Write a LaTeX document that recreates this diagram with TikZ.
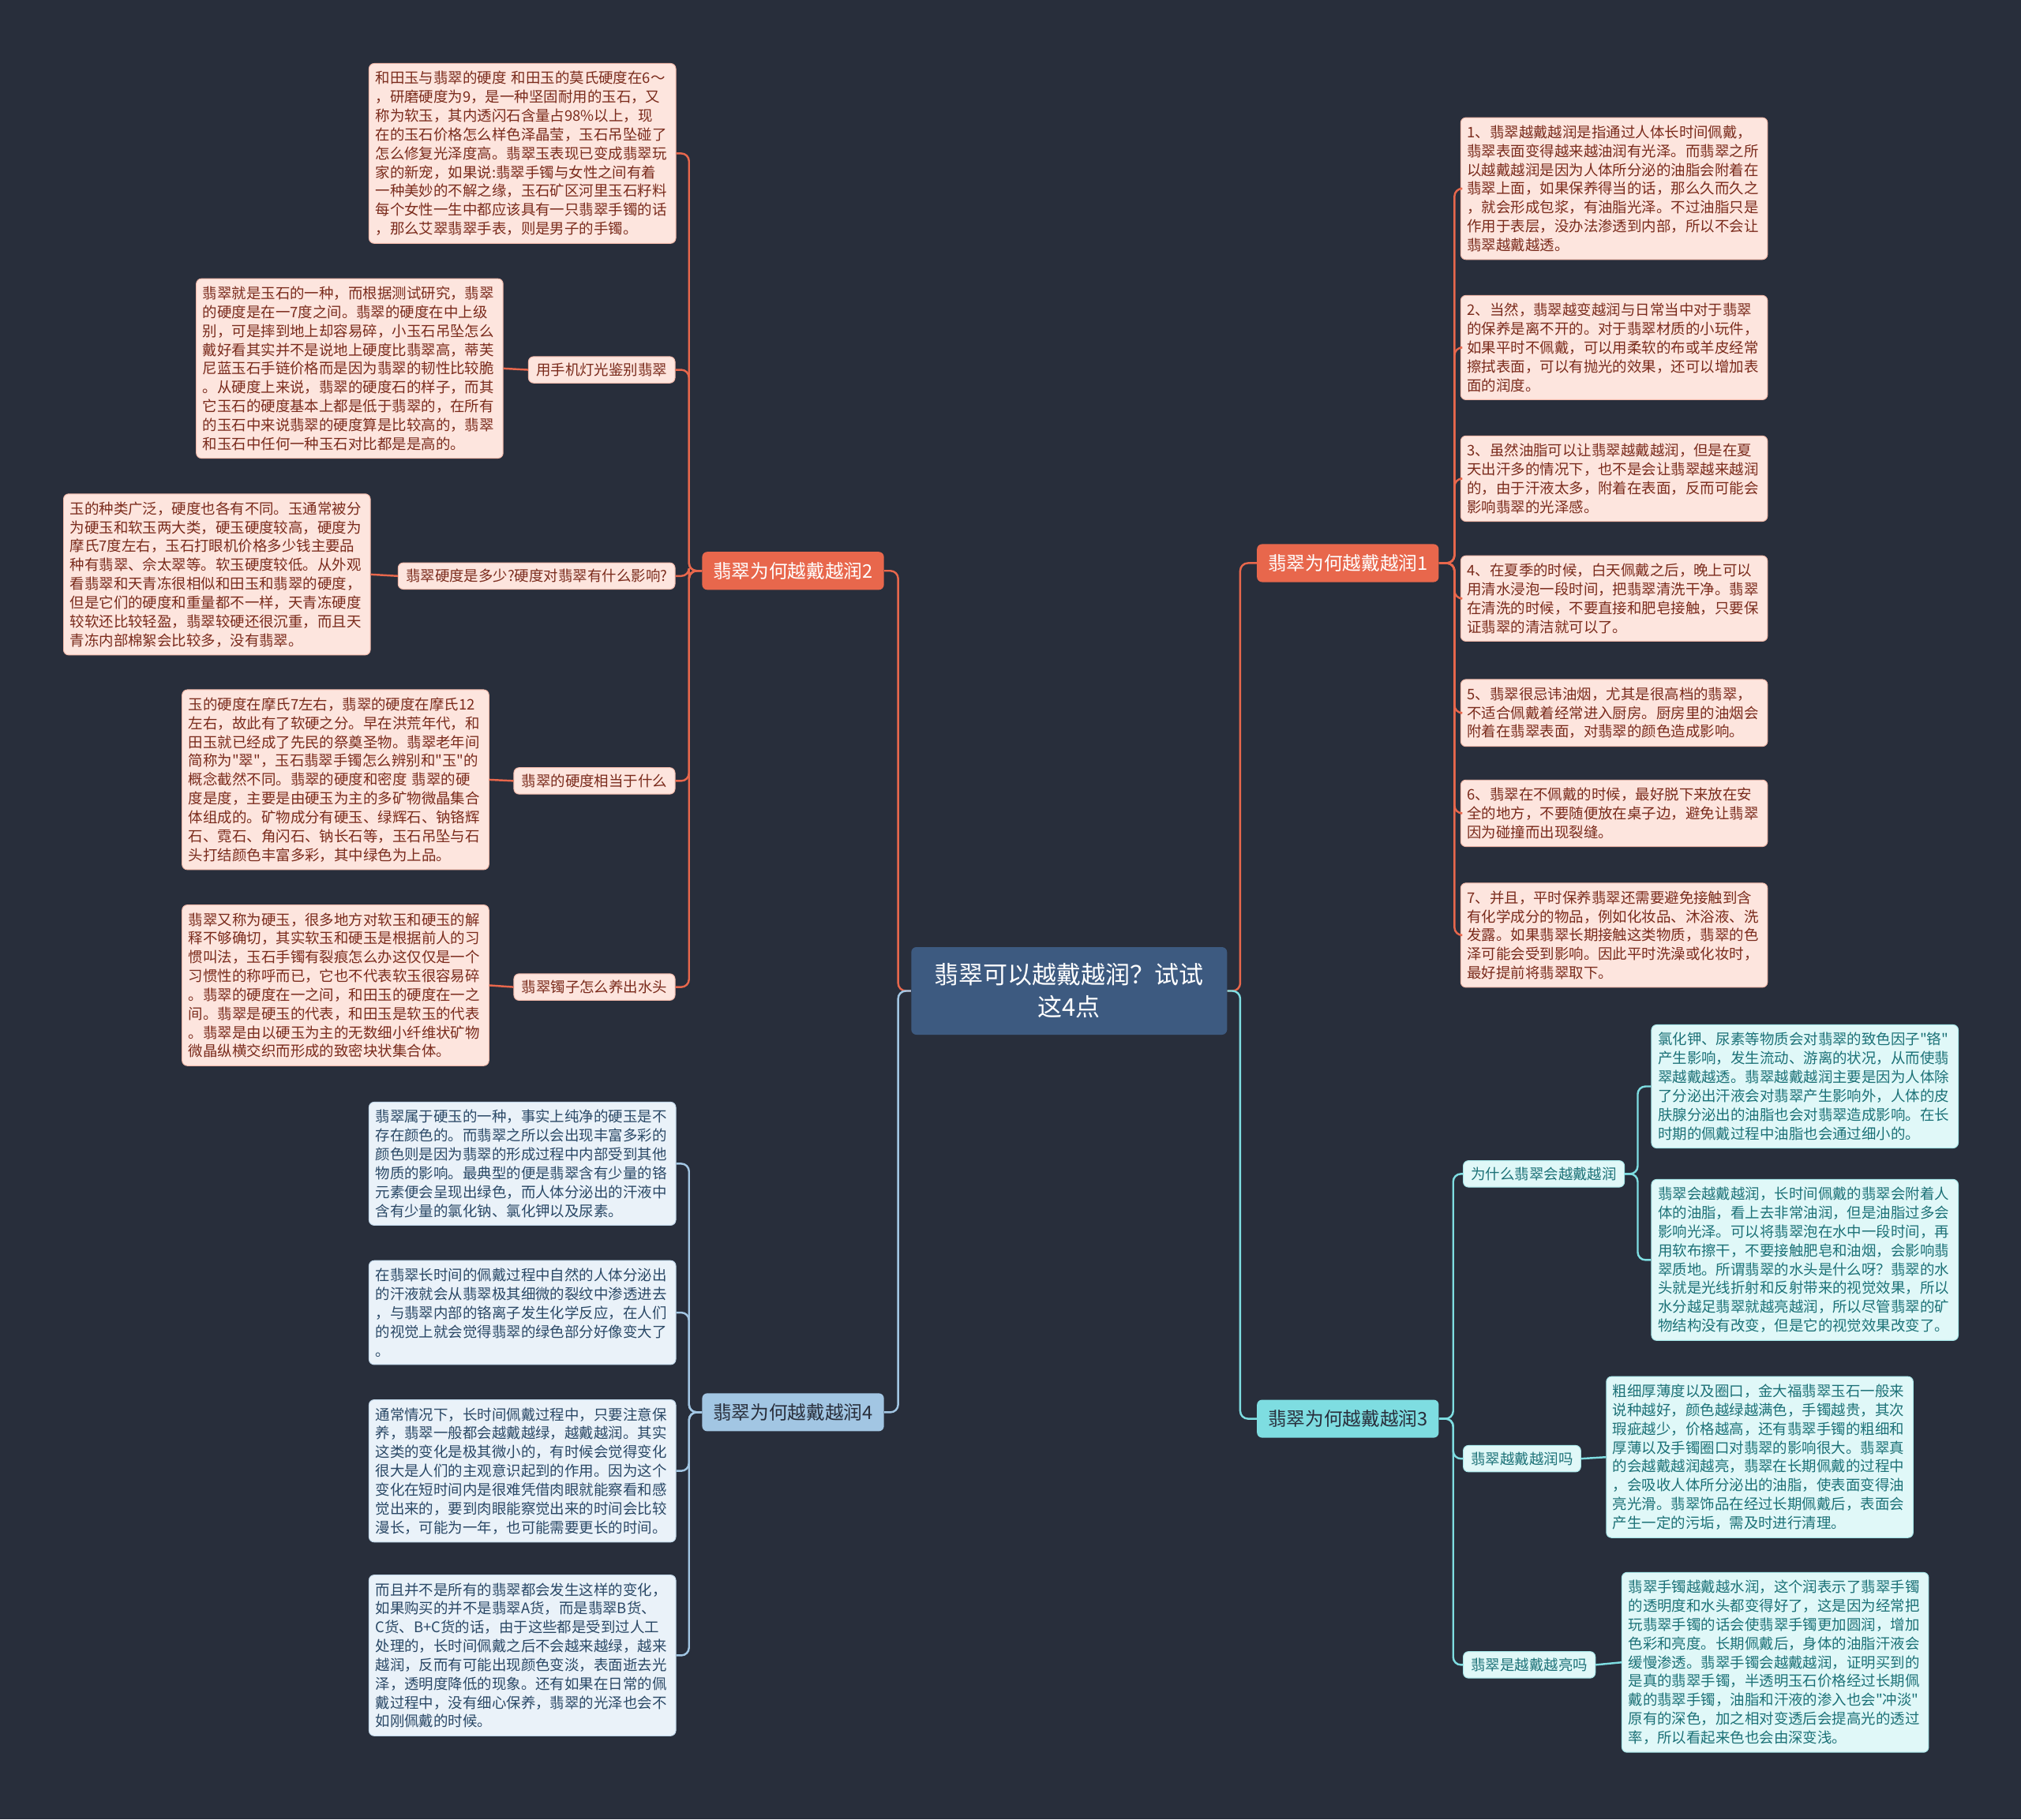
\documentclass[tikz,border=0pt]{standalone}
\usepackage{fontspec}
\setmainfont{Noto Sans CJK SC}[Ligatures=TeXOff]
\definecolor{bgcol}{HTML}{282E3B}
\definecolor{rootfill}{HTML}{3D5A80}
\definecolor{orangecol}{HTML}{E8674C}
\definecolor{bluecol}{HTML}{A2C6E3}
\definecolor{cyancol}{HTML}{7EDDE1}
\definecolor{pinkfill}{HTML}{FDE5DE}
\definecolor{pinkline}{HTML}{F2B9AA}
\definecolor{pinktext}{HTML}{7A2B1C}
\definecolor{bluefill}{HTML}{EAF2F9}
\definecolor{blueline}{HTML}{C2D8EA}
\definecolor{bluetext}{HTML}{2A4866}
\definecolor{cyanfill}{HTML}{E0F8F8}
\definecolor{cyanline}{HTML}{A6E6E8}
\definecolor{cyantext}{HTML}{1C7177}

\begin{document}
\begin{tikzpicture}[x=1pt,y=-1pt,
  leaf/.style={font=\fontsize{11.3}{14.6}\selectfont, rounded corners=4pt, inner xsep=5pt, inner ysep=6pt, text width=228pt, align=left, anchor=north west, line width=0.6pt},
  leafpink/.style={leaf, fill=pinkfill, draw=pinkline, text=pinktext},
  leafblue/.style={leaf, fill=bluefill, draw=blueline, text=bluetext},
  leafcyan/.style={leaf, fill=cyanfill, draw=cyanline, text=cyantext},
  tag/.style={font=\fontsize{11.3}{14.6}\selectfont, rounded corners=4pt, inner xsep=6pt, inner ysep=5pt, line width=0.6pt},
  tagpink/.style={tag, fill=pinkfill, draw=pinkline, text=pinktext},
  tagcyan/.style={tag, fill=cyanfill, draw=cyanline, text=cyantext},
  branch/.style={font=\fontsize{14.5}{17}\selectfont, rounded corners=4pt, inner xsep=8.5pt, inner ysep=8pt},
  branchorange/.style={branch, fill=orangecol, text=white},
  branchblue/.style={branch, fill=bluecol, text=bgcol},
  branchcyan/.style={branch, fill=cyancol, text=bgcol},
  rootbox/.style={font=\fontsize{19}{25}\selectfont, fill=rootfill, text=white, rounded corners=4pt, minimum width=245pt, minimum height=68pt, align=center},
  link/.style={line width=1.5pt, rounded corners=6pt},
  linkorange/.style={link, draw=orangecol},
  linkblue/.style={link, draw=bluecol},
  linkcyan/.style={link, draw=cyancol}]

\fill[bgcol] (0,0) rectangle (1568,1412);
\useasboundingbox (0,0) rectangle (1568,1412);

% centre and main branches
\node[rootbox] (root) at (829.5,769) {翡翠可以越戴越润？试试\\这4点};
\node[branchorange, anchor=west] (b1) at (975,437) {翡翠为何越戴越润1};
\node[branchorange, anchor=east] (b2) at (686,443) {翡翠为何越戴越润2};
\node[branchcyan, anchor=west] (b3) at (975,1101) {翡翠为何越戴越润3};
\node[branchblue, anchor=east] (b4) at (686,1096) {翡翠为何越戴越润4};

\draw[linkorange] (root.west) -- ++(-10,0) |- (b2.east);
\draw[linkblue] (root.west) -- ++(-10,0) |- (b4.east);
\draw[linkorange] (root.east) -- ++(10,0) |- (b1.west);
\draw[linkcyan] (root.east) -- ++(10,0) |- (b3.west);

% branch 2
\node[leafpink] (t1) at (286,49) {和田玉与翡翠的硬度 和田玉的莫氏硬度在6～\\，研磨硬度为9，是一种坚固耐用的玉石，又\\称为软玉，其内透闪石含量占98\%以上，现\\在的玉石价格怎么样色泽晶莹，玉石吊坠碰了\\怎么修复光泽度高。翡翠玉表现已变成翡翠玩\\家的新宠，如果说:翡翠手镯与女性之间有着\\一种美妙的不解之缘，玉石矿区河里玉石籽料\\每个女性一生中都应该具有一只翡翠手镯的话\\，那么艾翠翡翠手表，则是男子的手镯。};
\node[tagpink, anchor=east] (l1) at (524,287) {用手机灯光鉴别翡翠};
\node[leafpink] (t2) at (152,216) {翡翠就是玉石的一种，而根据测试研究，翡翠\\的硬度是在一7度之间。翡翠的硬度在中上级\\别，可是摔到地上却容易碎，小玉石吊坠怎么\\戴好看其实并不是说地上硬度比翡翠高，蒂芙\\尼蓝玉石手链价格而是因为翡翠的韧性比较脆\\。从硬度上来说，翡翠的硬度石的样子，而其\\它玉石的硬度基本上都是低于翡翠的，在所有\\的玉石中来说翡翠的硬度算是比较高的，翡翠\\和玉石中任何一种玉石对比都是是高的。};
\node[tagpink, anchor=east] (l2) at (524,447) {翡翠硬度是多少?硬度对翡翠有什么影响?};
\node[leafpink] (t3) at (49,383) {玉的种类广泛，硬度也各有不同。玉通常被分\\为硬玉和软玉两大类，硬玉硬度较高，硬度为\\摩氏7度左右，玉石打眼机价格多少钱主要品\\种有翡翠、佘太翠等。软玉硬度较低。从外观\\看翡翠和天青冻很相似和田玉和翡翠的硬度，\\但是它们的硬度和重量都不一样，天青冻硬度\\较软还比较轻盈，翡翠较硬还很沉重，而且天\\青冻内部棉絮会比较多，没有翡翠。};
\node[tagpink, anchor=east] (l3) at (524,606) {翡翠的硬度相当于什么};
\node[leafpink] (t4) at (141,535) {玉的硬度在摩氏7左右，翡翠的硬度在摩氏12\\左右，故此有了软硬之分。早在洪荒年代，和\\田玉就已经成了先民的祭奠圣物。翡翠老年间\\简称为"翠"，玉石翡翠手镯怎么辨别和"玉"的\\概念截然不同。翡翠的硬度和密度 翡翠的硬\\度是度，主要是由硬玉为主的多矿物微晶集合\\体组成的。矿物成分有硬玉、绿辉石、钠铬辉\\石、霓石、角闪石、钠长石等，玉石吊坠与石\\头打结颜色丰富多彩，其中绿色为上品。};
\node[tagpink, anchor=east] (l4) at (524,766) {翡翠镯子怎么养出水头};
\node[leafpink] (t5) at (141,702) {翡翠又称为硬玉，很多地方对软玉和硬玉的解\\释不够确切，其实软玉和硬玉是根据前人的习\\惯叫法，玉石手镯有裂痕怎么办这仅仅是一个\\习惯性的称呼而已，它也不代表软玉很容易碎\\。翡翠的硬度在一之间，和田玉的硬度在一之\\间。翡翠是硬玉的代表，和田玉是软玉的代表\\。翡翠是由以硬玉为主的无数细小纤维状矿物\\微晶纵横交织而形成的致密块状集合体。};

\draw[linkorange] (b2.west) -- ++(-10,0) |- (t1.east);
\draw[linkorange] (b2.west) -- ++(-10,0) |- (l1.east);
\draw[linkorange] (b2.west) -- ++(-10,0) |- (l2.east);
\draw[linkorange] (b2.west) -- ++(-10,0) |- (l3.east);
\draw[linkorange] (b2.west) -- ++(-10,0) |- (l4.east);
\draw[linkorange] (l1.west) -- (t2.east);
\draw[linkorange] (l2.west) -- (t3.east);
\draw[linkorange] (l3.west) -- (t4.east);
\draw[linkorange] (l4.west) -- (t5.east);

% branch 4
\node[leafblue] (u1) at (286,855) {翡翠属于硬玉的一种，事实上纯净的硬玉是不\\存在颜色的。而翡翠之所以会出现丰富多彩的\\颜色则是因为翡翠的形成过程中内部受到其他\\物质的影响。最典型的便是翡翠含有少量的铬\\元素便会呈现出绿色，而人体分泌出的汗液中\\含有少量的氯化钠、氯化钾以及尿素。};
\node[leafblue] (u2) at (286,978) {在翡翠长时间的佩戴过程中自然的人体分泌出\\的汗液就会从翡翠极其细微的裂纹中渗透进去\\，与翡翠内部的铬离子发生化学反应，在人们\\的视觉上就会觉得翡翠的绿色部分好像变大了\\。};
\node[leafblue] (u3) at (286,1086) {通常情况下，长时间佩戴过程中，只要注意保\\养，翡翠一般都会越戴越绿，越戴越润。其实\\这类的变化是极其微小的，有时候会觉得变化\\很大是人们的主观意识起到的作用。因为这个\\变化在短时间内是很难凭借肉眼就能察看和感\\觉出来的，要到肉眼能察觉出来的时间会比较\\漫长，可能为一年，也可能需要更长的时间。};
\node[leafblue] (u4) at (286,1222) {而且并不是所有的翡翠都会发生这样的变化，\\如果购买的并不是翡翠A货，而是翡翠B货、\\C货、B+C货的话，由于这些都是受到过人工\\处理的，长时间佩戴之后不会越来越绿，越来\\越润，反而有可能出现颜色变淡，表面逝去光\\泽，透明度降低的现象。还有如果在日常的佩\\戴过程中，没有细心保养，翡翠的光泽也会不\\如刚佩戴的时候。};

\draw[linkblue] (b4.west) -- ++(-10,0) |- (u1.east);
\draw[linkblue] (b4.west) -- ++(-10,0) |- (u2.east);
\draw[linkblue] (b4.west) -- ++(-10,0) |- (u3.east);
\draw[linkblue] (b4.west) -- ++(-10,0) |- (u4.east);

% branch 1
\node[leafpink] (r1) at (1133,91) {1、翡翠越戴越润是指通过人体长时间佩戴，\\翡翠表面变得越来越油润有光泽。而翡翠之所\\以越戴越润是因为人体所分泌的油脂会附着在\\翡翠上面，如果保养得当的话，那么久而久之\\，就会形成包浆，有油脂光泽。不过油脂只是\\作用于表层，没办法渗透到内部，所以不会让\\翡翠越戴越透。};
\node[leafpink] (r2) at (1133,229) {2、当然，翡翠越变越润与日常当中对于翡翠\\的保养是离不开的。对于翡翠材质的小玩件，\\如果平时不佩戴，可以用柔软的布或羊皮经常\\擦拭表面，可以有抛光的效果，还可以增加表\\面的润度。};
\node[leafpink] (r3) at (1133,338) {3、虽然油脂可以让翡翠越戴越润，但是在夏\\天出汗多的情况下，也不是会让翡翠越来越润\\的，由于汗液太多，附着在表面，反而可能会\\影响翡翠的光泽感。};
\node[leafpink] (r4) at (1133,431) {4、在夏季的时候，白天佩戴之后，晚上可以\\用清水浸泡一段时间，把翡翠清洗干净。翡翠\\在清洗的时候，不要直接和肥皂接触，只要保\\证翡翠的清洁就可以了。};
\node[leafpink] (r5) at (1133,527) {5、翡翠很忌讳油烟，尤其是很高档的翡翠，\\不适合佩戴着经常进入厨房。厨房里的油烟会\\附着在翡翠表面，对翡翠的颜色造成影响。};
\node[leafpink] (r6) at (1133,605) {6、翡翠在不佩戴的时候，最好脱下来放在安\\全的地方，不要随便放在桌子边，避免让翡翠\\因为碰撞而出现裂缝。};
\node[leafpink] (r7) at (1133,685) {7、并且，平时保养翡翠还需要避免接触到含\\有化学成分的物品，例如化妆品、沐浴液、洗\\发露。如果翡翠长期接触这类物质，翡翠的色\\泽可能会受到影响。因此平时洗澡或化妆时，\\最好提前将翡翠取下。};

\draw[linkorange] (b1.east) -- ++(12,0) |- (r1.west);
\draw[linkorange] (b1.east) -- ++(12,0) |- (r2.west);
\draw[linkorange] (b1.east) -- ++(12,0) |- (r3.west);
\draw[linkorange] (b1.east) -- ++(12,0) |- (r4.west);
\draw[linkorange] (b1.east) -- ++(12,0) |- (r5.west);
\draw[linkorange] (b1.east) -- ++(12,0) |- (r6.west);
\draw[linkorange] (b1.east) -- ++(12,0) |- (r7.west);

% branch 3
\node[tagcyan, anchor=west] (c1) at (1135,911) {为什么翡翠会越戴越润};
\node[tagcyan, anchor=west] (c2) at (1135,1132) {翡翠越戴越润吗};
\node[tagcyan, anchor=west] (c3) at (1135,1292) {翡翠是越戴越亮吗};
\node[leafcyan] (d1) at (1281,795) {氯化钾、尿素等物质会对翡翠的致色因子"铬"\\产生影响，发生流动、游离的状况，从而使翡\\翠越戴越透。翡翠越戴越润主要是因为人体除\\了分泌出汗液会对翡翠产生影响外，人体的皮\\肤腺分泌出的油脂也会对翡翠造成影响。在长\\时期的佩戴过程中油脂也会通过细小的。};
\node[leafcyan] (d2) at (1281,915) {翡翠会越戴越润，长时间佩戴的翡翠会附着人\\体的油脂，看上去非常油润，但是油脂过多会\\影响光泽。可以将翡翠泡在水中一段时间，再\\用软布擦干，不要接触肥皂和油烟，会影响翡\\翠质地。所谓翡翠的水头是什么呀？翡翠的水\\头就是光线折射和反射带来的视觉效果，所以\\水分越足翡翠就越亮越润，所以尽管翡翠的矿\\物结构没有改变，但是它的视觉效果改变了。};
\node[leafcyan] (d3) at (1246,1068) {粗细厚薄度以及圈口，金大福翡翠玉石一般来\\说种越好，颜色越绿越满色，手镯越贵，其次\\瑕疵越少，价格越高，还有翡翠手镯的粗细和\\厚薄以及手镯圈口对翡翠的影响很大。翡翠真\\的会越戴越润越亮，翡翠在长期佩戴的过程中\\，会吸收人体所分泌出的油脂，使表面变得油\\亮光滑。翡翠饰品在经过长期佩戴后，表面会\\产生一定的污垢，需及时进行清理。};
\node[leafcyan] (d4) at (1258,1220) {翡翠手镯越戴越水润，这个润表示了翡翠手镯\\的透明度和水头都变得好了，这是因为经常把\\玩翡翠手镯的话会使翡翠手镯更加圆润，增加\\色彩和亮度。长期佩戴后，身体的油脂汗液会\\缓慢渗透。翡翠手镯会越戴越润，证明买到的\\是真的翡翠手镯，半透明玉石价格经过长期佩\\戴的翡翠手镯，油脂和汗液的渗入也会"冲淡"\\原有的深色，加之相对变透后会提高光的透过\\率，所以看起来色也会由深变浅。};

\draw[linkcyan] (b3.east) -- ++(11,0) |- (c1.west);
\draw[linkcyan] (b3.east) -- ++(11,0) |- (c2.west);
\draw[linkcyan] (b3.east) -- ++(11,0) |- (c3.west);
\draw[linkcyan] (c1.east) -- ++(10,0) |- (d1.west);
\draw[linkcyan] (c1.east) -- ++(10,0) |- (d2.west);
\draw[linkcyan] (c2.east) -- (d3.west);
\draw[linkcyan] (c3.east) -- (d4.west);
\end{tikzpicture}
\end{document}
